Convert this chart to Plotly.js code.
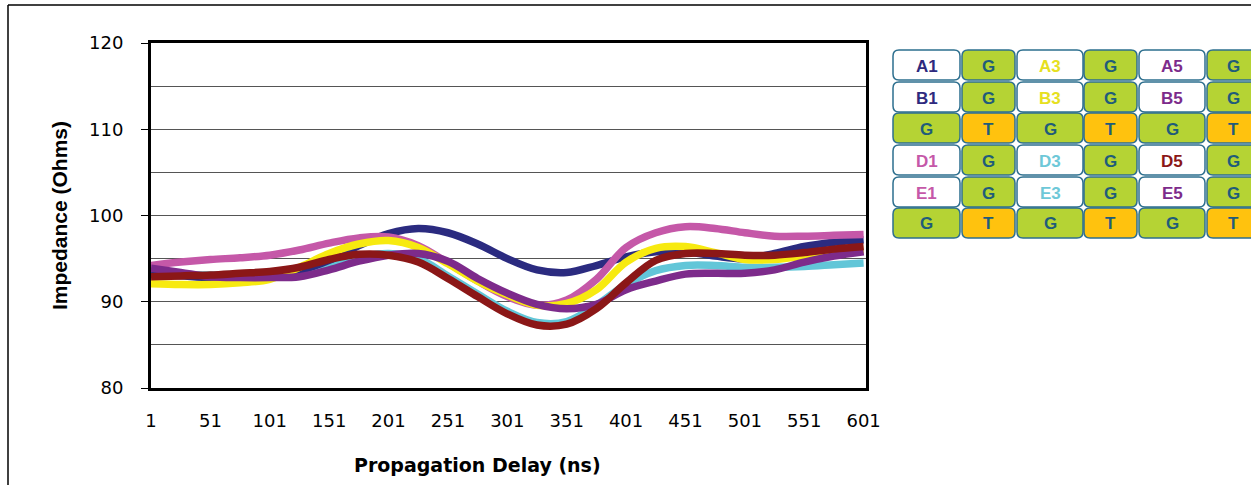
<!DOCTYPE html>
<html><head><meta charset="utf-8">
<script src="https://cdn.plot.ly/plotly-3.0.1.min.js"></script>
<style>html,body{margin:0;padding:0;background:#fff;}#chart{width:1251px;height:485px;}</style>
</head><body><div id="chart"></div>
<script>
// ---- data ----
const delayNs = [1,26,51,76,101,126,151,176,201,226,251,276,301,326,351,376,401,426,451,476,501,526,551,576,601];
const seriesNames = ['D3/E3','A1/B1','D1/E1','A3/B3','A5/B5/E5','D5'];
const cyanD3E3   = [93.4,93.2,93.1,93.2,93.3,93.6,94.4,95.2,95.6,95.0,93.0,90.9,88.9,87.6,87.7,89.6,92.0,93.6,94.2,94.2,94.0,94.0,94.1,94.3,94.5];
const navyA1B1   = [93.2,93.0,92.8,92.8,93.0,93.6,94.8,96.5,97.9,98.5,98.0,96.7,95.0,93.7,93.4,94.2,95.2,95.8,95.8,95.3,95.0,95.6,96.4,96.9,97.2];
const pinkD1E1   = [94.2,94.6,94.9,95.1,95.4,96.0,96.8,97.4,97.5,96.5,94.5,92.4,90.6,89.6,90.2,92.6,96.3,98.0,98.7,98.5,98.0,97.6,97.6,97.7,97.8];
const yellowA3B3 = [92.1,92.0,92.0,92.2,92.6,94.0,95.6,96.7,97.1,96.3,94.4,92.4,90.8,89.6,89.8,91.4,94.6,96.2,96.4,95.7,94.9,94.9,95.3,95.7,96.0];
const purpleA5B5 = [93.9,93.4,92.9,92.8,92.8,92.9,93.7,94.7,95.4,95.6,94.7,92.7,91.0,89.7,89.2,89.7,91.4,92.4,93.2,93.3,93.3,93.7,94.6,95.3,95.8];
const redD5      = [92.9,93.0,93.1,93.3,93.5,94.0,94.9,95.5,95.4,94.6,92.7,90.6,88.6,87.3,87.4,89.2,92.2,94.8,95.6,95.6,95.4,95.4,95.7,96.1,96.4];
const seriesColors = ['#62c6d8','#2b2b80','#c558a8','#f7ea10','#7d2b8b','#8b1717'];
const xTickLabels = ['1','51','101','151','201','251','301','351','401','451','501','551','601'];
const yTickLabels = ['80','90','100','110','120'];
const tableRows = [
  ['A1','G','A3','G','A5','G'],
  ['B1','G','B3','G','B5','G'],
  ['G','T','G','T','G','T'],
  ['D1','G','D3','G','D5','G'],
  ['E1','G','E3','G','E5','G'],
  ['G','T','G','T','G','T']
];
const labelColors = {A1:'#2e2a7e',B1:'#2e2a7e',A3:'#e6e020',B3:'#e6e020',A5:'#7d2b8b',B5:'#7d2b8b',E5:'#7d2b8b',
  D1:'#c558a8',E1:'#c558a8',D3:'#6ec8d8',E3:'#6ec8d8',D5:'#8b1717',G:'#1f5c7a',T:'#1f5c7a'};

// ---- layout constants ----
const L = 151, R = 866, T = 43, B = 388;
const X = px => (px - L) / (R - L);
const Y = py => (B - py) / (B - T);
const FONT = 'Liberation Sans, Arial, sans-serif';
const WIDE = 'DejaVu Sans, Verdana, sans-serif';

const allSeries = [cyanD3E3, navyA1B1, pinkD1E1, yellowA3B3, purpleA5B5, redD5];
const traces = allSeries.map((ys, i) => ({
  x: delayNs, y: ys, name: seriesNames[i], type: 'scatter', mode: 'lines',
  line: {color: seriesColors[i], width: 7.5, shape: 'spline', smoothing: 1},
  hoverinfo: 'x+y+name'
}));

const shapes = [];
const annotations = [];
function rrect(x, y, w, h, r) {
  return `M ${X(x+r)},${Y(y)} L ${X(x+w-r)},${Y(y)} Q ${X(x+w)},${Y(y)} ${X(x+w)},${Y(y+r)} ` +
         `L ${X(x+w)},${Y(y+h-r)} Q ${X(x+w)},${Y(y+h)} ${X(x+w-r)},${Y(y+h)} ` +
         `L ${X(x+r)},${Y(y+h)} Q ${X(x)},${Y(y+h)} ${X(x)},${Y(y+h-r)} ` +
         `L ${X(x)},${Y(y+r)} Q ${X(x)},${Y(y)} ${X(x+r)},${Y(y)} Z`;
}
const colLeft = [893, 962, 1017, 1084, 1139, 1207];
const colW = [67, 53, 66, 53, 66, 53];
const rowTop = [50, 82, 113, 145, 177, 208];
const rowH = 30;
tableRows.forEach((row, ri) => {
  row.forEach((lab, ci) => {
    const fill = lab === 'G' ? '#b5d334' : (lab === 'T' ? '#ffc20e' : '#ffffff');
    shapes.push({type: 'path', xref: 'paper', yref: 'paper', path: rrect(colLeft[ci], rowTop[ri], colW[ci], rowH, 6),
      fillcolor: fill, line: {color: '#2d6f8e', width: 1.5}, layer: 'above'});
    annotations.push({xref: 'paper', yref: 'paper', x: X(colLeft[ci] + colW[ci] / 2), y: Y(rowTop[ri] + rowH / 2 + 1),
      xanchor: 'center', yanchor: 'middle', showarrow: false, text: lab,
      font: {family: FONT, size: 17, color: labelColors[lab], weight: 'bold'}});
  });
});
// outer frame
shapes.push({type: 'line', xref: 'paper', yref: 'paper', x0: X(8), x1: X(1260), y0: Y(5), y1: Y(5), line: {color: '#000', width: 1.5}});
shapes.push({type: 'line', xref: 'paper', yref: 'paper', x0: X(8), x1: X(8), y0: Y(5), y1: Y(490), line: {color: '#000', width: 1.5}});

annotations.push({xref: 'paper', yref: 'paper', x: X(477), y: Y(465), xanchor: 'center', yanchor: 'middle', showarrow: false,
  text: 'Propagation Delay (ns)', font: {family: WIDE, size: 19, color: '#000', weight: 'bold'}});

const layout = {
  width: 1251, height: 485,
  margin: {l: L, r: 1251 - R, t: T, b: 485 - B, pad: 0},
  paper_bgcolor: '#fff', plot_bgcolor: '#fff',
  showlegend: false,
  font: {family: WIDE, size: 18, color: '#000'},
  xaxis: {
    range: [1, 603], tickmode: 'array', tickvals: xTickLabels.map(Number), ticktext: xTickLabels,
    showgrid: false, zeroline: false, showline: true, linecolor: '#000', linewidth: 3, mirror: true,
    ticks: '', ticklabelstandoff: 14, tickfont: {family: WIDE, size: 18, color: '#000'}
  },
  yaxis: {
    range: [80, 120], tickmode: 'array', tickvals: yTickLabels.map(Number), ticktext: yTickLabels,
    showgrid: true, gridcolor: '#555', gridwidth: 1, zeroline: false,
    showline: true, linecolor: '#000', linewidth: 3, mirror: true,
    ticks: 'outside', ticklen: 7, tickwidth: 1, tickcolor: '#000', ticklabelstandoff: 14,
    tickfont: {family: WIDE, size: 18, color: '#000'},
    minor: {dtick: 5, tick0: 80, showgrid: true, gridcolor: '#555', gridwidth: 1, ticks: ''},
    title: {text: 'Impedance (Ohms)', standoff: 16, font: {family: FONT, size: 21, color: '#000', weight: 'bold'}}
  },
  shapes: shapes,
  annotations: annotations
};
Plotly.newPlot('chart', traces, layout, {displayModeBar: false, staticPlot: true});
</script>
</body></html>
